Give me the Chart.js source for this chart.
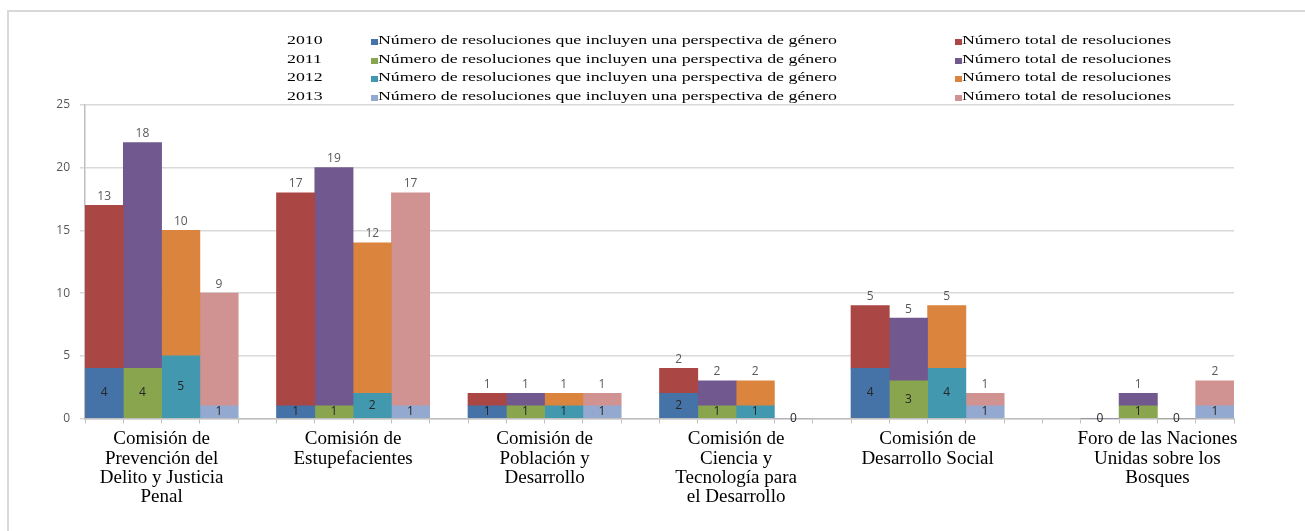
<!DOCTYPE html>
<html lang="es">
<head>
<meta charset="utf-8">
<title>Resoluciones con perspectiva de género</title>
<script src="https://cdn.jsdelivr.net/npm/chart.js@4.4.1/dist/chart.umd.min.js"></script>
<style>
    html, body { margin: 0; padding: 0; background: #fff; }
    #wrap { position: relative; width: 1305px; height: 531px; overflow: hidden; }
    #frame { position: absolute; left: 7px; top: 10px; right: 0; bottom: 0;
             border-top: 2px solid #d9d9d9; border-left: 2px solid #d9d9d9; }
    #chart { position: absolute; left: 0; top: 0; }
    #legend { position: absolute; left: 0; top: 0; width: 1305px; height: 110px;
              font-family: "Liberation Serif", "Times New Roman", serif; font-size: 13px; color: #000; }
    .row { position: absolute; left: 0; height: 18px; line-height: 18px; white-space: nowrap; }
    .yr, .it { position: absolute; top: 0; transform: scaleX(1.37); transform-origin: left center; }
    .box { position: absolute; width: 7px; height: 6px; top: 8px; }
</style>
</head>
<body>
<div id="wrap">
    <div id="frame"></div>
    <canvas id="chart" width="1305" height="531"></canvas>
    <div id="legend"></div>
</div>
<script>
// Commissions (x axis categories)
const categories = [
    ['Comisión de', 'Prevención del', 'Delito y Justicia', 'Penal'],
    ['Comisión de', 'Estupefacientes'],
    ['Comisión de', 'Población y', 'Desarrollo'],
    ['Comisión de', 'Ciencia y', 'Tecnología para', 'el Desarrollo'],
    ['Comisión de', 'Desarrollo Social'],
    ['Foro de las Naciones', 'Unidas sobre los', 'Bosques']
];
const years = ['2010', '2011', '2012', '2013'];

// Resolutions that include a gender perspective (bottom segment)
const gender2010 = [4, 1, 1, 2, 4, 0];
const gender2011 = [4, 1, 1, 1, 3, 1];
const gender2012 = [5, 2, 1, 1, 4, 0];
const gender2013 = [1, 1, 1, 0, 1, 1];

// Total resolutions (top segment, as labelled)
const total2010 = [13, 17, 1, 2, 5, 0];
const total2011 = [18, 19, 1, 2, 5, 1];
const total2012 = [10, 12, 1, 2, 5, 0];
const total2013 = [9, 17, 1, 0, 1, 2];

const yTicks = [0, 5, 10, 15, 20, 25];

const legendGender = 'Número de resoluciones que incluyen una perspectiva de género';
const legendTotal = 'Número total de resoluciones';

const genderSeries = [gender2010, gender2011, gender2012, gender2013];
const totalSeries = [total2010, total2011, total2012, total2013];
const genderColors = ['#4572A7', '#89A54E', '#4198AF', '#93A9CF'];
const totalColors = ['#AA4643', '#71588F', '#DB843D', '#D19392'];

// empty bar slots before each group (the last group sits one slot further right)
const gapSlots = [0, 1, 1, 1, 1, 2];
const groupStart = [];
let acc = 0;
gapSlots.forEach((g, i) => {
    acc += g;
    groupStart.push(acc);
    acc += years.length;
});
const slotCount = acc;

function points(values, yearIdx) {
    return values.map((v, i) => ({ x: groupStart[i] + yearIdx + 0.5, y: v }));
}

const datasets = [];
years.forEach((year, k) => {
    datasets.push({
        label: legendGender,
        year: year,
        part: 'gender',
        data: points(genderSeries[k], k),
        backgroundColor: genderColors[k],
        stack: 'all'
    });
    datasets.push({
        label: legendTotal,
        year: year,
        part: 'total',
        data: points(totalSeries[k], k),
        backgroundColor: totalColors[k],
        stack: 'all'
    });
});

// value labels on the segments
const valueLabels = {
    id: 'valueLabels',
    afterDatasetsDraw(chart) {
        const ctx = chart.ctx;
        ctx.save();
        ctx.font = '12px "Open Sans", "Liberation Sans", sans-serif';
        ctx.textAlign = 'center';
        ctx.textBaseline = 'middle';
        chart.data.datasets.forEach((ds, i) => {
            const meta = chart.getDatasetMeta(i);
            meta.data.forEach((bar, j) => {
                const v = ds.data[j].y;
                if (ds.part === 'gender') {
                    ctx.fillStyle = '#262626';
                    ctx.fillText(v, bar.x, (bar.y + bar.base) / 2);
                } else if (v > 0) {
                    ctx.fillStyle = '#595959';
                    ctx.fillText(v, bar.x, bar.y - 9);
                }
            });
        });
        ctx.restore();
    }
};

const ctx = document.getElementById('chart').getContext('2d');
const chart = new Chart(ctx, {
    type: 'bar',
    data: { datasets: datasets },
    options: {
        responsive: false,
        animation: false,
        layout: { padding: { left: 35, right: 71, top: 105, bottom: 18 } },
        plugins: {
            legend: { display: false },
            tooltip: { enabled: false }
        },
        datasets: {
            bar: { barPercentage: 1, categoryPercentage: 1, borderWidth: 0 }
        },
        scales: {
            x: {
                type: 'linear',
                min: 0,
                max: slotCount,
                offset: false,
                grid: { offset: false, drawOnChartArea: false, tickLength: 5, color: '#bfbfbf' },
                border: { color: '#bfbfbf', width: 1.5 },
                ticks: {
                    stepSize: 1,
                    autoSkip: false,
                    maxRotation: 0,
                    minRotation: 0,
                    padding: 6,
                    color: '#000',
                    font: { family: '"Liberation Serif", "Times New Roman", serif', size: 19, lineHeight: 1.02 },
                    callback: (value) => {
                        const i = groupStart.findIndex(s => s + years.length / 2 === value);
                        return i >= 0 ? categories[i] : '';
                    }
                }
            },
            y: {
                stacked: true,
                min: yTicks[0],
                max: yTicks[yTicks.length - 1],
                afterFit: (scale) => { scale.width = 50; },
                afterBuildTicks: (scale) => { scale.ticks = yTicks.map(v => ({ value: v })); },
                grid: { color: '#d9d9d9', lineWidth: 1.5, tickLength: 5 },
                border: { color: '#bfbfbf', width: 1.5 },
                ticks: {
                    padding: 10,
                    color: '#595959',
                    font: { family: '"Open Sans", "Liberation Sans", sans-serif', size: 12 }
                }
            }
        }
    },
    plugins: [valueLabels]
});

// legend: year, gender swatch + text, total swatch + text
const legendEl = document.getElementById('legend');
years.forEach((year, k) => {
    const row = document.createElement('div');
    row.className = 'row';
    row.style.top = (31 + k * 18.5) + 'px';
    row.style.width = '1305px';
    row.innerHTML = `
        <span class="yr" style="left:287px">${year}</span>
        <span class="box" style="left:371px;background:${genderColors[k]}"></span>
        <span class="it" style="left:378px">${legendGender}</span>
        <span class="box" style="left:955px;background:${totalColors[k]}"></span>
        <span class="it" style="left:962px">${legendTotal}</span>
    `;
    legendEl.appendChild(row);
});
</script>
</body>
</html>
